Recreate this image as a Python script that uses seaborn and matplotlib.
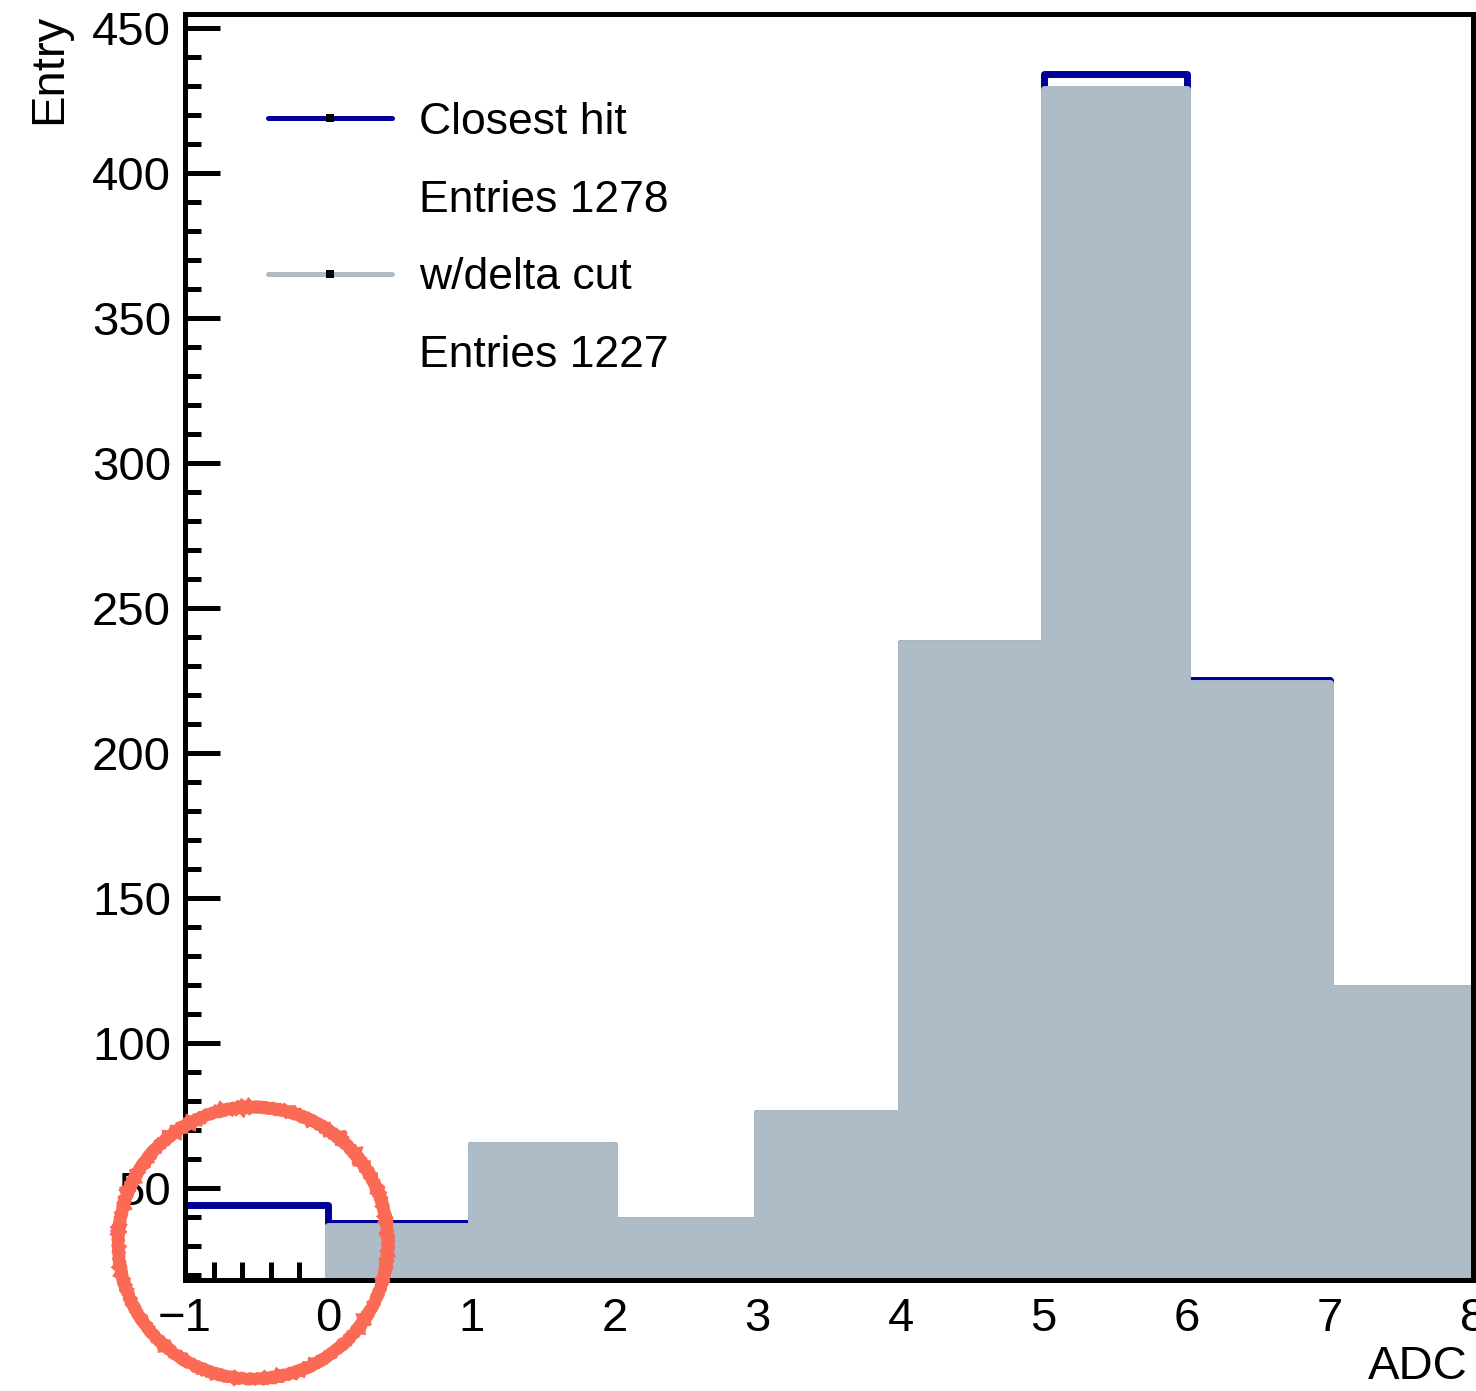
import numpy as np
import pandas as pd
import matplotlib
matplotlib.use("Agg")
import matplotlib.pyplot as plt
from matplotlib.lines import Line2D
from matplotlib.patches import Ellipse
from matplotlib.ticker import MultipleLocator
import seaborn as sns

# ADC histogram: one bin per ADC count
bin_edges = [-1, 0, 1, 2, 3, 4, 5, 6, 7, 8]
closest_hit = [44, 38, 65, 39, 76, 238, 434, 225, 119]
delta_cut = [18, 37, 65, 39, 76, 238, 429, 224, 119]
legend_labels = ["Closest hit", "Entries 1278", "w/delta cut", "Entries 1227"]

blue = "#000099"
grey = "#adbcc6"
LW = 5.0  # outline width (pt) shared by both histograms

centers = [(a + b) / 2 for a, b in zip(bin_edges[:-1], bin_edges[1:])]
df = pd.DataFrame({"adc": centers, "closest": closest_hit, "cut": delta_cut})

sns.set_style("white")
plt.rcParams["font.family"] = ["Liberation Sans", "DejaVu Sans"]
plt.rcParams.update({"text.color": "black", "axes.labelcolor": "black",
                     "xtick.color": "black", "ytick.color": "black"})

fig = plt.figure(figsize=(14.76, 13.91), dpi=100)
ax = fig.add_axes([185 / 1476, 1 - 1280 / 1391, 1288 / 1476, 1266 / 1391])

# Unselected sample as a thick outline, selected sample filled on top of it
sns.histplot(data=df, x="adc", weights="closest", bins=bin_edges, element="step",
             fill=False, color=blue, linewidth=LW, ax=ax, zorder=2)
sns.histplot(data=df, x="adc", weights="cut", bins=bin_edges, element="step",
             fill=True, color=grey, alpha=1, edgecolor=grey, linewidth=LW,
             ax=ax, zorder=3)

ax.set_xlim(-1, 8)
ax.set_ylim(18.3, 454.8)

ax.xaxis.set_major_locator(MultipleLocator(1))
ax.xaxis.set_minor_locator(MultipleLocator(0.2))
ax.yaxis.set_major_locator(MultipleLocator(50))
ax.yaxis.set_minor_locator(MultipleLocator(10))
ax.tick_params(axis="both", which="both", direction="in", width=3.6, color="black",
               bottom=True, left=True, top=False, right=False, labelsize=34,
               labelcolor="black")
ax.tick_params(axis="y", which="major", length=25, pad=10)
ax.tick_params(axis="y", which="minor", length=11.5)
ax.tick_params(axis="x", which="major", length=25, pad=12)
ax.tick_params(axis="x", which="minor", length=13)
ax.xaxis.set_zorder(1)
ax.yaxis.set_zorder(1)

for sp in ax.spines.values():
    sp.set_linewidth(3.6)
    sp.set_color("black")
    sp.set_zorder(5)

ax.set_xlabel("ADC", fontsize=34, loc="right")
ax.xaxis.set_label_coords(1 - 5 / 1288, -0.0515)
ax.set_ylabel("Entry", fontsize=34, loc="top", labelpad=15)

handles = [
    Line2D([], [], color=blue, lw=3.6, marker="s", markersize=6,
           markerfacecolor="black", markeredgewidth=0),
    Line2D([], [], linestyle="none"),
    Line2D([], [], color=grey, lw=3.6, marker="s", markersize=6,
           markerfacecolor="black", markeredgewidth=0),
    Line2D([], [], linestyle="none"),
]
ax.legend(handles, legend_labels, loc="upper left", bbox_to_anchor=(83 / 1288, 1 - 88 / 1266),
          frameon=False, fontsize=32, handlelength=2.8, handletextpad=0.59,
          labelspacing=0.825, borderpad=0, borderaxespad=0)

# Highlight ring around the lowest bins
ring = Ellipse((253 / 1476, 1 - 1243 / 1391), width=270 / 1476, height=272 / 1391,
               transform=fig.transFigure, fill=False, edgecolor="#fb6a54", linewidth=8.5,
               zorder=10)
ring.set_sketch_params(scale=0.8, length=6, randomness=3)
fig.add_artist(ring)

fig.savefig("out.png", dpi=100)
